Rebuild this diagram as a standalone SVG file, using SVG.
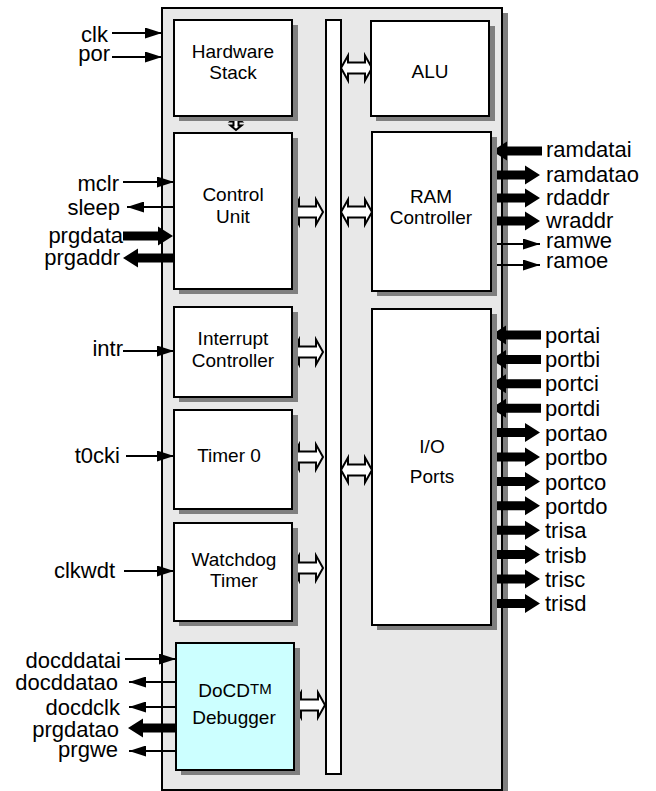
<svg xmlns="http://www.w3.org/2000/svg" xmlns:xlink="http://www.w3.org/1999/xlink" width="656" height="791" viewBox="0 0 656 791">
<style>
.main{fill:#e8e8e8;stroke:#000;stroke-width:2}
.box{fill:#fff;stroke:#000;stroke-width:2}
.dbg{fill:#ccffff;stroke:#000;stroke-width:2}
.sh{fill:#7f7f7f;stroke:none}
.thin{stroke:#000;stroke-width:1.8;fill:none}
.thick{fill:#000}
.dbl{fill:#fff;stroke:#000;stroke-width:2;stroke-linejoin:miter}
text{font-family:"Liberation Sans",Arial,sans-serif;fill:#000}
.sigL{font-size:22px;text-anchor:end}
.sigR{font-size:22px;text-anchor:start}
.lbl{font-size:19px;text-anchor:middle}
</style>
<defs>
<marker id="ah" markerUnits="userSpaceOnUse" markerWidth="17" markerHeight="11" viewBox="0 0 17 11" refX="17" refY="5.5" orient="auto">
<path d="M0,0 L17,5.5 L0,11 Z" fill="#000"/>
</marker>
<path id="tR" d="M0,-4.5 H35 V-9.5 L50,0 L35,9.5 V4.5 H0 Z"/>
<path id="tL" d="M0,0 L15,-9.5 V-4.5 H50 V4.5 H15 V9.5 Z"/>
<path id="dA" d="M0,0 L7,-12.5 V-5.5 H24 V-12.5 L31,0 L24,12.5 V5.5 H7 V12.5 Z"/>
</defs>

<g id="chip">
<rect class="sh" x="168" y="13" width="340" height="782"/>
<rect class="main" x="162" y="8" width="340" height="782"/>
</g>

<g id="bus">
<rect class="box" x="326" y="20" width="15" height="754"/>
</g>

<g id="connectors">
<line class="thin" x1="112" y1="33" x2="162" y2="33" marker-end="url(#ah)"/>
<line class="thin" x1="112" y1="57" x2="162" y2="57" marker-end="url(#ah)"/>
<line class="thin" x1="123" y1="182" x2="174" y2="182" marker-end="url(#ah)"/>
<line class="thin" x1="174" y1="207" x2="127" y2="207" marker-end="url(#ah)"/>
<use class="thick" href="#tR" x="123" y="236"/>
<use class="thick" href="#tL" x="123" y="258"/>
<line class="thin" x1="123" y1="351" x2="174" y2="351" marker-end="url(#ah)"/>
<line class="thin" x1="126" y1="456" x2="174" y2="456" marker-end="url(#ah)"/>
<line class="thin" x1="124" y1="571" x2="174" y2="571" marker-end="url(#ah)"/>
<line class="thin" x1="125" y1="659" x2="176" y2="659" marker-end="url(#ah)"/>
<line class="thin" x1="176" y1="682" x2="129" y2="682" marker-end="url(#ah)"/>
<line class="thin" x1="176" y1="707" x2="129" y2="707" marker-end="url(#ah)"/>
<use class="thick" href="#tL" x="128" y="728"/>
<line class="thin" x1="176" y1="751" x2="129" y2="751" marker-end="url(#ah)"/>
<use class="thick" href="#tL" x="492" y="151"/>
<use class="thick" href="#tR" x="490" y="175"/>
<use class="thick" href="#tR" x="490" y="198"/>
<use class="thick" href="#tR" x="490" y="221"/>
<line class="thin" x1="488" y1="244" x2="540" y2="244" marker-end="url(#ah)"/>
<line class="thin" x1="488" y1="265" x2="540" y2="265" marker-end="url(#ah)"/>
<use class="thick" href="#tL" x="491" y="335"/>
<use class="thick" href="#tL" x="491" y="359.4"/>
<use class="thick" href="#tL" x="491" y="383.8"/>
<use class="thick" href="#tL" x="491" y="408.2"/>
<use class="thick" href="#tR" x="490" y="432.6"/>
<use class="thick" href="#tR" x="490" y="457"/>
<use class="thick" href="#tR" x="490" y="481.4"/>
<use class="thick" href="#tR" x="490" y="505.8"/>
<use class="thick" href="#tR" x="490" y="530.2"/>
<use class="thick" href="#tR" x="490" y="554.6"/>
<use class="thick" href="#tR" x="490" y="579"/>
<use class="thick" href="#tR" x="490" y="603.4"/>
<use class="dbl" href="#dA" x="292" y="212"/>
<use class="dbl" href="#dA" x="292" y="352"/>
<use class="dbl" href="#dA" x="292" y="457"/>
<use class="dbl" href="#dA" x="292" y="568"/>
<use class="dbl" href="#dA" x="294" y="705"/>
<use class="dbl" href="#dA" x="341" y="68"/>
<use class="dbl" href="#dA" x="341" y="212"/>
<use class="dbl" href="#dA" x="341" y="470"/>
<path class="dbl" stroke-width="2.5" d="M236,117 L241.5,121.5 H238.5 V125.5 H241.5 L236,130 L230.5,125.5 H233.5 V121.5 H230.5 Z"/>
</g>

<g id="hwstack">
<rect class="sh" x="179" y="25" width="119" height="96"/>
<rect class="box" x="174" y="20" width="118" height="96"/>
<text class="lbl" x="233" y="58">Hardware</text>
<text class="lbl" x="233" y="79">Stack</text>
</g>
<g id="control">
<rect class="sh" x="179" y="138" width="119" height="156"/>
<rect class="box" x="174" y="133" width="118" height="156"/>
<text class="lbl" x="233" y="201">Control</text>
<text class="lbl" x="233" y="223">Unit</text>
</g>
<g id="interrupt">
<rect class="sh" x="179" y="312" width="119" height="90"/>
<rect class="box" x="174" y="307" width="118" height="90"/>
<text class="lbl" x="233" y="345">Interrupt</text>
<text class="lbl" x="233" y="367">Controller</text>
</g>
<g id="timer0">
<rect class="sh" x="179" y="415" width="119" height="99"/>
<rect class="box" x="174" y="410" width="118" height="99"/>
<text class="lbl" x="229" y="462">Timer 0</text>
</g>
<g id="watchdog">
<rect class="sh" x="179" y="528" width="119" height="98"/>
<rect class="box" x="174" y="523" width="118" height="98"/>
<text class="lbl" x="234" y="566">Watchdog</text>
<text class="lbl" x="234" y="587">Timer</text>
</g>
<g id="docd">
<rect class="sh" x="181" y="648" width="119" height="127"/>
<rect class="dbg" x="176" y="643" width="118" height="127"/>
<text class="lbl" x="235" y="697">DoCD<tspan font-size="15" dy="-3">TM</tspan></text>
<text class="lbl" x="234" y="724">Debugger</text>
</g>
<g id="alu">
<rect class="sh" x="376" y="26" width="119" height="95"/>
<rect class="box" x="371" y="21" width="118" height="95"/>
<text class="lbl" x="430" y="78">ALU</text>
</g>
<g id="ram">
<rect class="sh" x="377" y="137" width="120" height="159"/>
<rect class="box" x="372" y="132" width="119" height="159"/>
<text class="lbl" x="431" y="203">RAM</text>
<text class="lbl" x="431" y="224">Controller</text>
</g>
<g id="io">
<rect class="sh" x="377" y="314" width="120" height="316"/>
<rect class="box" x="372" y="309" width="119" height="316"/>
<text class="lbl" x="432" y="453">I/O</text>
<text class="lbl" x="432" y="483">Ports</text>
</g>

<g id="labels">
<text class="sigL" x="108" y="41.5">clk</text>
<text class="sigL" x="110" y="61">por</text>
<text class="sigL" x="119" y="191">mclr</text>
<text class="sigL" x="120" y="215">sleep</text>
<text class="sigL" x="123" y="243">prgdata</text>
<text class="sigL" x="120" y="265">prgaddr</text>
<text class="sigL" x="123" y="356">intr</text>
<text class="sigL" x="120" y="463">t0cki</text>
<text class="sigL" x="115" y="578">clkwdt</text>
<text class="sigL" x="121" y="668">docddatai</text>
<text class="sigL" x="118" y="690">docddatao</text>
<text class="sigL" x="120" y="715">docdclk</text>
<text class="sigL" x="119" y="736.5">prgdatao</text>
<text class="sigL" x="118" y="756.5">prgwe</text>
<text class="sigR" x="546" y="157">ramdatai</text>
<text class="sigR" x="546" y="181.5">ramdatao</text>
<text class="sigR" x="546" y="205">rdaddr</text>
<text class="sigR" x="546" y="228">wraddr</text>
<text class="sigR" x="546" y="248">ramwe</text>
<text class="sigR" x="546" y="268">ramoe</text>
<text class="sigR" x="545" y="342.5">portai</text>
<text class="sigR" x="545" y="367">portbi</text>
<text class="sigR" x="545" y="391">portci</text>
<text class="sigR" x="545" y="415.5">portdi</text>
<text class="sigR" x="545" y="440.5">portao</text>
<text class="sigR" x="545" y="465">portbo</text>
<text class="sigR" x="545" y="489.5">portco</text>
<text class="sigR" x="545" y="513.5">portdo</text>
<text class="sigR" x="545" y="538">trisa</text>
<text class="sigR" x="545" y="562.5">trisb</text>
<text class="sigR" x="545" y="587">trisc</text>
<text class="sigR" x="545" y="611">trisd</text>
</g>
</svg>
